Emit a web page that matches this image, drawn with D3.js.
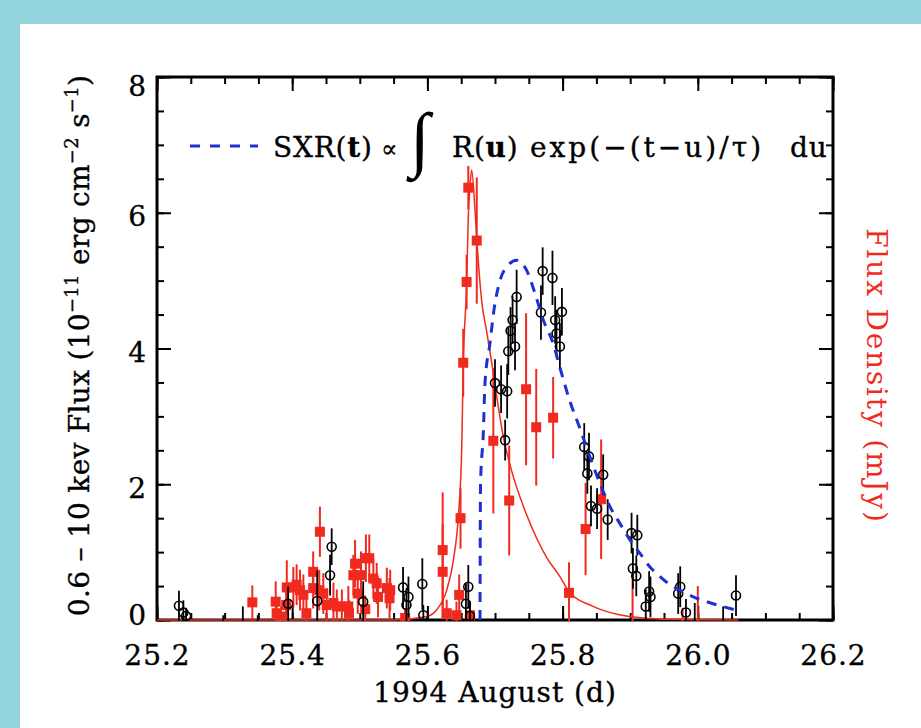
<!DOCTYPE html>
<html>
<head>
<meta charset="utf-8">
<script src="https://cdn.jsdelivr.net/npm/d3@7"></script>
<style>
  body { margin: 0; background: #93d4de; }
  svg { display: block; }
</style>
</head>
<body>
<svg id="chart" width="921" height="728"></svg>
<script>
// ---- data ----
// x-ray flux: [day, flux (1e-11 erg cm^-2 s^-1), error]
var xrayPoints = [
  [25.2325, 0.21, 0.22], [25.239, 0.11, 0.18], [25.243, 0.06, 0.12],
  [25.298, -0.10, 0.17], [25.327, -0.05, 0.25], [25.349, -0.05, 0.12],
  [25.394, 0.24, 0.25], [25.437, 0.28, 0.45], [25.456, 0.66, 0.30],
  [25.4584, 1.08, 0.27], [25.505, 0.27, 0.30], [25.564, 0.48, 0.30],
  [25.569, 0.22, 0.25], [25.572, 0.34, 0.30], [25.5925, 0.53, 0.38],
  [25.594, 0.07, 0.15], [25.657, 0.24, 0.30], [25.6605, 0.49, 0.32],
  [25.663, 0.06, 0.20],
  [25.700, 3.49, 0.35], [25.709, 3.40, 0.35], [25.715, 2.65, 0.30],
  [25.718, 3.37, 0.40], [25.7197, 3.96, 0.35], [25.723, 4.26, 0.35],
  [25.726, 4.42, 0.35], [25.7296, 4.03, 0.35], [25.732, 4.76, 0.40],
  [25.768, 4.53, 0.40], [25.7705, 5.14, 0.35], [25.785, 5.04, 0.40],
  [25.789, 4.42, 0.35], [25.791, 4.22, 0.35], [25.796, 4.03, 0.35],
  [25.799, 4.54, 0.35], [25.832, 2.55, 0.35], [25.8366, 2.16, 0.30],
  [25.839, 2.41, 0.35], [25.842, 1.68, 0.30], [25.851, 1.64, 0.30],
  [25.860, 2.14, 0.30], [25.8667, 1.48, 0.30], [25.902, 1.28, 0.30],
  [25.904, 0.76, 0.30], [25.909, 0.65, 0.30], [25.9105, 1.25, 0.30],
  [25.923, 0.20, 0.25], [25.928, 0.42, 0.30], [25.930, 0.34, 0.30],
  [25.971, 0.39, 0.30], [25.974, 0.49, 0.30], [25.9825, 0.11, 0.20],
  [25.9955, -0.05, 0.30], [26.0375, -0.05, 0.25], [26.0565, 0.36, 0.30]
];

// radio flux density (plotted on the left-axis scale): [day, flux, error]
var radioPoints = [
  [25.341, 0.26, 0.25], [25.3756, 0.27, 0.30], [25.377, 0.10, 0.20],
  [25.3835, 0.05, 0.15], [25.391, 0.22, 0.30], [25.392, 0.48, 0.40],
  [25.4017, 0.48, 0.30], [25.4066, 0.52, 0.30], [25.4115, 0.44, 0.30],
  [25.4165, 0.37, 0.30], [25.421, 0.10, 0.20], [25.431, 0.71, 0.30],
  [25.431, 0.47, 0.30], [25.440, 0.44, 0.30], [25.441, 1.30, 0.37],
  [25.446, 0.39, 0.30], [25.451, 0.22, 0.25], [25.461, 0.25, 0.30],
  [25.466, 0.20, 0.25], [25.4735, 0.20, 0.25], [25.483, 0.20, 0.30],
  [25.484, 0.10, 0.20], [25.4905, 0.66, 0.30], [25.493, 0.83, 0.35],
  [25.497, 0.39, 0.30], [25.5018, 0.66, 0.35], [25.508, 0.16, 0.20],
  [25.509, 0.91, 0.35], [25.514, 0.91, 0.35], [25.520, 0.61, 0.30],
  [25.525, 0.54, 0.30], [25.527, 0.34, 0.30], [25.540, 0.47, 0.30],
  [25.544, 0.32, 0.30], [25.545, 0.44, 0.30], [25.567, 0.03, 0.15],
  [25.6226, 1.03, 0.85], [25.6226, 0.71, 0.70], [25.6285, 0.10, 0.20],
  [25.643, 0.07, 0.20], [25.647, 0.37, 0.30], [25.649, 1.50, 0.45],
  [25.653, 3.79, 0.50], [25.658, 4.98, 0.40], [25.6605, 6.37, 0.32],
  [25.663, 0.07, 0.20], [25.673, 5.59, 0.93], [25.6975, 2.64, 1.07],
  [25.721, 1.76, 0.81], [25.746, 3.40, 1.12], [25.761, 2.84, 0.86],
  [25.786, 2.98, 0.60], [25.8095, 0.40, 0.45], [25.834, 1.34, 0.68],
  [25.857, 1.78, 0.88], [25.9035, -0.05, 0.72], [25.9775, -0.05, 0.23],
  [26.000, -0.05, 0.55]
];

// red model curve through the radio data
var radioModel = [
  [25.20, 0], [25.55, 0], [25.599, 0.05], [25.6138, 0.15], [25.6286, 0.44],
  [25.6384, 0.88], [25.6457, 1.52], [25.6507, 2.50], [25.6531, 3.78],
  [25.6581, 4.96], [25.6605, 5.94], [25.663, 6.38], [25.6655, 6.63],
  [25.6704, 6.04], [25.6738, 5.50], [25.6803, 4.70], [25.6877, 4.25],
  [25.695, 3.80], [25.7123, 2.70], [25.7245, 2.20], [25.7468, 1.55],
  [25.7765, 0.92], [25.796, 0.64], [25.8095, 0.42], [25.845, 0.20],
  [25.882, 0.08], [25.919, 0.03], [25.96, 0.01], [26.06, 0]
];

// blue dashed SXR model
var sxrModel = [
  [25.6778, 0], [25.6786, 2.0], [25.6827, 2.75], [25.6852, 3.49],
  [25.6926, 4.08], [25.6985, 4.57], [25.7074, 5.00], [25.7197, 5.23],
  [25.7320, 5.30], [25.7469, 5.15], [25.7592, 4.81], [25.7714, 4.42],
  [25.7862, 4.07], [25.796, 3.72], [25.8109, 3.22], [25.8257, 2.82],
  [25.8405, 2.40], [25.8553, 2.01], [25.8701, 1.67], [25.8849, 1.42],
  [25.8997, 1.18], [25.9145, 0.98], [25.9293, 0.78], [25.9441, 0.64],
  [25.9589, 0.52], [25.9737, 0.44], [25.9933, 0.34], [26.0132, 0.27],
  [26.0328, 0.21], [26.055, 0.15]
];

var xTicks = [25.2, 25.4, 25.6, 25.8, 26.0, 26.2];
var yTicks = [0, 2, 4, 6, 8];

// ---- layout ----
var svg = d3.select("#chart");
var plot = { left: 157, right: 833, top: 77, bottom: 620 };
var FONT = "DejaVu Serif";
var RED = "#f02a1e", BLUE = "#1e30d2";

// white panel over the cyan backdrop
svg.append("rect")
    .attr("x", 20).attr("y", 24)
    .attr("width", 901).attr("height", 704)
    .attr("fill", "#ffffff");

var x = d3.scaleLinear().domain([25.2, 26.2]).range([plot.left, plot.right]);
var y = d3.scaleLinear().domain([0, 8]).range([plot.bottom, plot.top]);
var yRight = d3.scaleLinear().domain([0, 8]).range([plot.bottom, plot.top]);

var xMinor = d3.range(25.2, 26.2001, 0.05).map(function(d) { return +d.toFixed(2); });
var yMinor = d3.range(0, 8.001, 0.5);

// heavier serif text, a bit like the IDL plot font
function textStyle(sel, color) {
    sel.attr("font-family", FONT).attr("font-size", 28)
        .attr("fill", color).attr("stroke", color).attr("stroke-width", 0.35);
}

function styleAxis(g) {
    g.select(".domain").remove();
    g.selectAll(".tick line").attr("stroke", "#000").attr("stroke-width", 2);
    g.selectAll(".tick text").call(textStyle, "#000").attr("letter-spacing", 1);
}

// minor ticks on all four sides
svg.append("g").attr("transform", "translate(0," + plot.bottom + ")")
    .call(d3.axisBottom(x).tickValues(xMinor).tickSize(-7).tickFormat(""))
    .call(styleAxis);
svg.append("g").attr("transform", "translate(0," + plot.top + ")")
    .call(d3.axisTop(x).tickValues(xMinor).tickSize(-7).tickFormat(""))
    .call(styleAxis);
svg.append("g").attr("transform", "translate(" + plot.left + ",0)")
    .call(d3.axisLeft(y).tickValues(yMinor).tickSize(-7).tickFormat(""))
    .call(styleAxis);
svg.append("g").attr("transform", "translate(" + plot.right + ",0)")
    .call(d3.axisRight(yRight).tickValues(yMinor).tickSize(-7).tickFormat(""))
    .call(styleAxis);

// major ticks + labels
svg.append("g").attr("transform", "translate(0," + plot.bottom + ")")
    .call(d3.axisBottom(x).tickValues(xTicks).tickSize(-14).tickPadding(25)
        .tickFormat(d3.format(".1f")))
    .call(styleAxis);
svg.append("g").attr("transform", "translate(0," + plot.top + ")")
    .call(d3.axisTop(x).tickValues(xTicks).tickSize(-14).tickFormat(""))
    .call(styleAxis);
svg.append("g").attr("transform", "translate(" + plot.left + ",0)")
    .call(d3.axisLeft(y).tickValues(yTicks).tickSize(-14).tickPadding(10)
        .tickFormat(d3.format("d")))
    .call(styleAxis)
    .selectAll(".tick text")
    .attr("dy", "0.35em")
    .attr("y", function(d) { return d === 8 ? 9 : d === 0 ? -5 : 3; });
svg.append("g").attr("transform", "translate(" + plot.right + ",0)")
    .call(d3.axisRight(yRight).tickValues(yTicks).tickSize(-14).tickFormat(""))
    .call(styleAxis);

// frame
svg.append("rect")
    .attr("x", plot.left).attr("y", plot.top)
    .attr("width", plot.right - plot.left).attr("height", plot.bottom - plot.top)
    .attr("fill", "none").attr("stroke", "#000").attr("stroke-width", 3);

// clip for data
svg.append("clipPath").attr("id", "clip")
  .append("rect")
    .attr("x", plot.left).attr("y", plot.top)
    .attr("width", plot.right - plot.left).attr("height", plot.bottom - plot.top + 1);

var data = svg.append("g").attr("clip-path", "url(#clip)");

// red model curve
var line = d3.line()
    .x(function(d) { return x(d[0]); })
    .y(function(d) { return yRight(d[1]); })
    .curve(d3.curveMonotoneX);

data.append("path").datum(radioModel)
    .attr("d", line)
    .attr("fill", "none").attr("stroke", RED).attr("stroke-width", 1.5);

// radio error bars + squares
data.append("g").selectAll("line").data(radioPoints).enter().append("line")
    .attr("x1", function(d) { return x(d[0]); })
    .attr("x2", function(d) { return x(d[0]); })
    .attr("y1", function(d) { return yRight(d[1] - d[2]); })
    .attr("y2", function(d) { return yRight(d[1] + d[2]); })
    .attr("stroke", RED).attr("stroke-width", 2);

data.append("g").selectAll("rect").data(radioPoints.filter(function(d) { return d[1] > 0; }))
    .enter().append("rect")
    .attr("x", function(d) { return x(d[0]) - 5; })
    .attr("y", function(d) { return yRight(d[1]) - 5; })
    .attr("width", 10).attr("height", 10)
    .attr("fill", RED);

// x-ray error bars + open circles
data.append("g").selectAll("line").data(xrayPoints).enter().append("line")
    .attr("x1", function(d) { return x(d[0]); })
    .attr("x2", function(d) { return x(d[0]); })
    .attr("y1", function(d) { return y(d[1] - d[2]); })
    .attr("y2", function(d) { return y(d[1] + d[2]); })
    .attr("stroke", "#000").attr("stroke-width", 1.8);

data.append("g").selectAll("circle").data(xrayPoints.filter(function(d) { return d[1] > 0; }))
    .enter().append("circle")
    .attr("cx", function(d) { return x(d[0]); })
    .attr("cy", function(d) { return y(d[1]); })
    .attr("r", 4.5)
    .attr("fill", "none").attr("stroke", "#000").attr("stroke-width", 1.6);

// blue dashed SXR model
data.append("path").datum(sxrModel)
    .attr("d", d3.line()
        .x(function(d) { return x(d[0]); })
        .y(function(d) { return y(d[1]); })
        .curve(d3.curveMonotoneX))
    .attr("fill", "none").attr("stroke", BLUE)
    .attr("stroke-width", 3).attr("stroke-dasharray", "10,8");

// legend
svg.append("line")
    .attr("x1", 190).attr("x2", 258).attr("y1", 146).attr("y2", 146)
    .attr("stroke", BLUE).attr("stroke-width", 3).attr("stroke-dasharray", "10,10");

var leg = svg.append("text").call(textStyle, "#000")
    .attr("y", 157).attr("letter-spacing", 0.8);
leg.append("tspan").attr("x", 273).text("SXR(");
leg.append("tspan").attr("font-weight", "bold").text("t");
leg.append("tspan").text(")");
leg.append("tspan").attr("x", 381).attr("font-size", 24).text("\u221D");
leg.append("tspan").attr("x", 452).text("R(");
leg.append("tspan").attr("font-weight", "bold").text("u");
leg.append("tspan").text(")");
leg.append("tspan").attr("x", 530).attr("letter-spacing", 3).text("exp(\u2212(t\u2212u)/\u03C4)");
leg.append("tspan").attr("x", 790).text("du");

svg.append("text")
    .attr("font-family", "Liberation Serif").attr("font-size", 72).attr("fill", "#000")
    .attr("x", 410).attr("y", 163)
    .text("\u222B");

// axis titles
svg.append("text").call(textStyle, "#000")
    .attr("letter-spacing", 1)
    .attr("text-anchor", "middle")
    .attr("x", (plot.left + plot.right) / 2).attr("y", 702)
    .text("1994 August (d)");

var yt = svg.append("text").call(textStyle, "#000")
    .attr("letter-spacing", 0.3)
    .attr("text-anchor", "middle")
    .attr("transform", "translate(89," + ((plot.top + plot.bottom) / 2 - 3) + ") rotate(-90)");
yt.append("tspan").text("0.6 \u2013 10 kev Flux (10");
yt.append("tspan").attr("dy", -11).attr("font-size", 18).text("\u221211");
yt.append("tspan").attr("dy", 11).text(" erg cm");
yt.append("tspan").attr("dy", -11).attr("font-size", 18).text("\u22122");
yt.append("tspan").attr("dy", 11).text(" s");
yt.append("tspan").attr("dy", -11).attr("font-size", 18).text("\u22121");
yt.append("tspan").attr("dy", 11).text(")");

svg.append("text")
    .attr("font-family", FONT).attr("font-size", 28).attr("fill", RED)
    .attr("letter-spacing", 1.8)
    .attr("text-anchor", "middle")
    .attr("transform", "translate(867,376) rotate(90)")
    .text("Flux Density (mJy)");
</script>
</body>
</html>
